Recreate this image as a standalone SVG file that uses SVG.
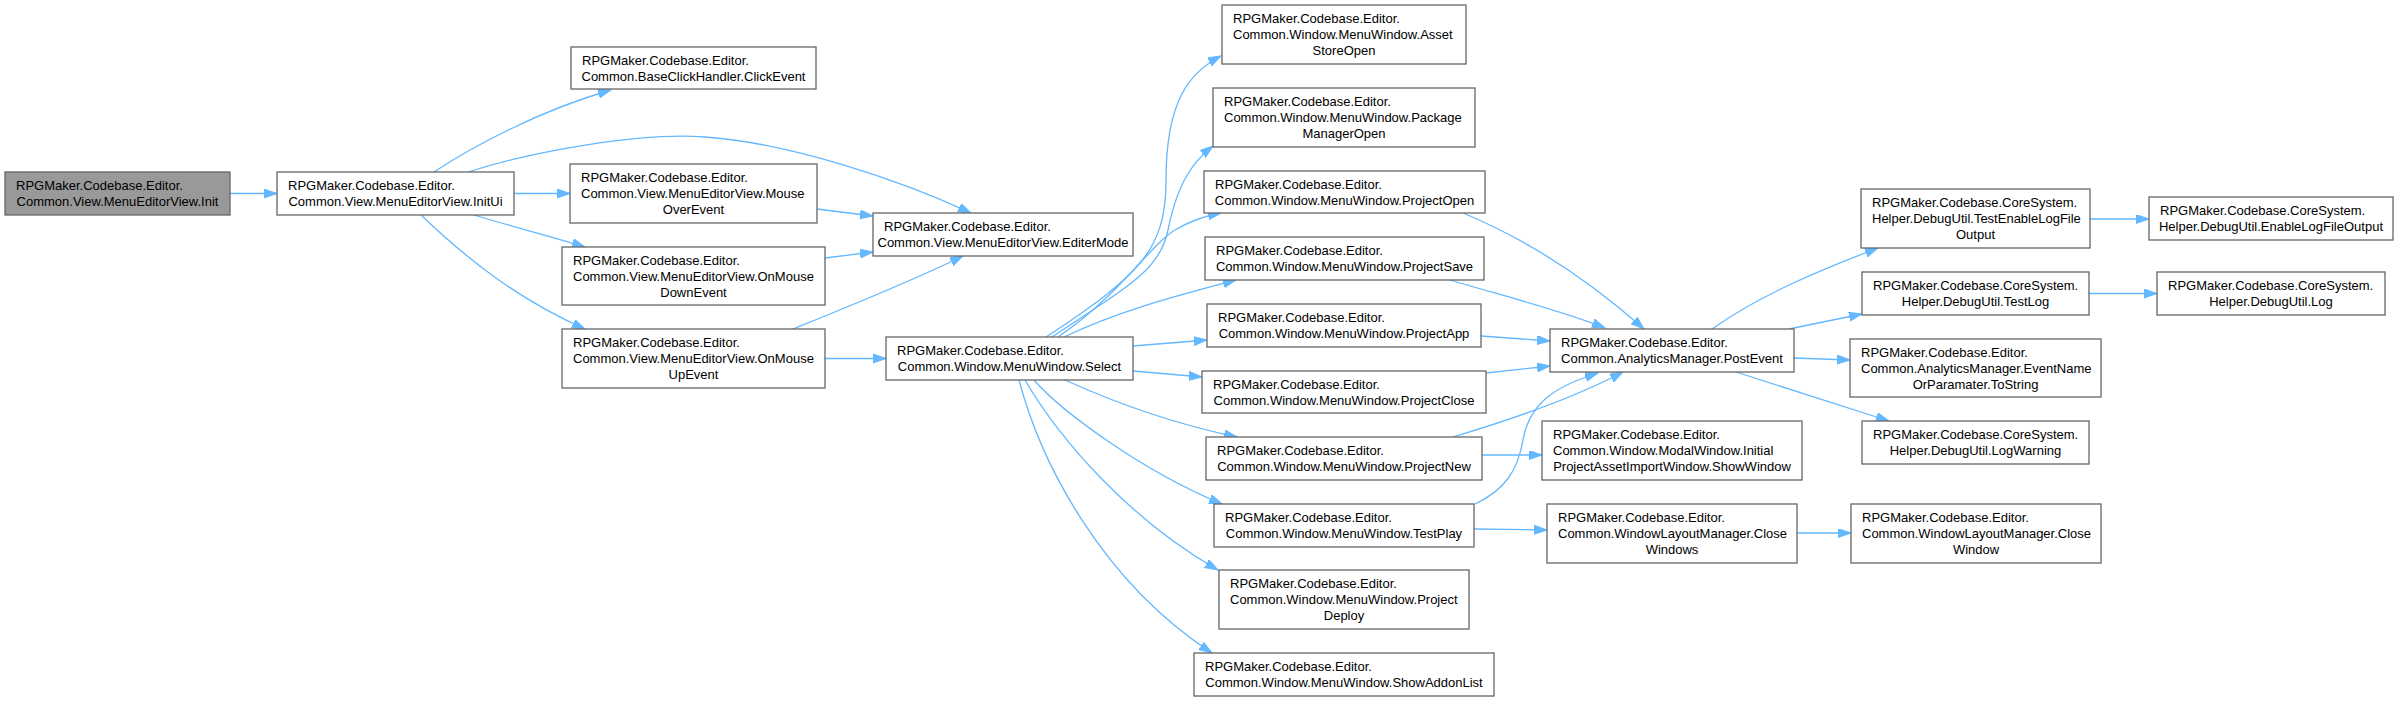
<svg xmlns="http://www.w3.org/2000/svg" width="2398" height="701" viewBox="0 0 2398 701">
<defs>
<style>
.n rect{fill:#ffffff;stroke:#666666;stroke-width:1.3}
.n.root rect{fill:#999999}
.n text{font-family:"Liberation Sans",Arial,sans-serif;font-size:13px;fill:#000000}
.n text.c{text-anchor:middle}
.e path{fill:none;stroke:#63b8ff;stroke-width:1.3;marker-end:url(#ah)}
</style>
<marker id="ah" markerUnits="userSpaceOnUse" markerWidth="14" markerHeight="10" refX="13" refY="4.5" orient="auto">
<path d="M0,0 L13,4.5 L0,9 z" fill="#63b8ff" stroke="#63b8ff" stroke-width="1"/>
</marker>
</defs>
<rect width="2398" height="701" fill="#ffffff"/>
<g id="connectors" class="e">
<path d="M230,193.5 L277,193.5"/>
<path d="M434,172 C470,148 540,110 611,90"/>
<path d="M468,172 C530,152 640,132 705,137 C790,143 900,180 971,213"/>
<path d="M514,193.5 L570,193.5"/>
<path d="M474,215 C510,226 550,236 585,247"/>
<path d="M421,215 C470,262 520,300 585,329"/>
<path d="M817,209 L873,216"/>
<path d="M825,258 L873,252"/>
<path d="M793,329 C840,310 910,282 963,256"/>
<path d="M825,358.5 L886,358.5"/>
<path d="M1046,337 C1140,275 1166,250 1166,180 C1166,100 1190,72 1221,56"/>
<path d="M1052,337 C1130,285 1160,270 1168,230 C1178,180 1195,160 1213,146"/>
<path d="M1058,337 C1120,295 1150,245 1175,230 C1190,221 1205,216 1221,213"/>
<path d="M1064,337 C1120,310 1180,295 1236,280"/>
<path d="M1133,346 L1207,340"/>
<path d="M1133,371 L1202,377"/>
<path d="M1065,380 C1120,405 1180,425 1237,437"/>
<path d="M1034,380 C1060,410 1140,470 1222,504"/>
<path d="M1025,380 C1060,440 1130,520 1218,570"/>
<path d="M1019,380 C1040,460 1100,580 1212,653"/>
<path d="M1463,213 C1540,245 1600,290 1644,329"/>
<path d="M1450,280 C1500,295 1560,310 1605,328"/>
<path d="M1481,336 L1550,341"/>
<path d="M1486,373 L1550,366"/>
<path d="M1453,437 C1510,420 1570,400 1623,372"/>
<path d="M1475,504 C1505,490 1518,470 1523,440 C1530,400 1560,385 1598,373"/>
<path d="M1482,455 L1542,455"/>
<path d="M1474,529 L1547,530"/>
<path d="M1797,533 L1851,533"/>
<path d="M1712,329 C1760,295 1820,270 1878,248"/>
<path d="M1789,329 L1862,314"/>
<path d="M1794,358 L1850,360"/>
<path d="M1736,372 L1889,421"/>
<path d="M2090,219 L2149,219"/>
<path d="M2089,293.5 L2157,293.5"/>
</g>
<g id="n1" class="n root"><rect x="5" y="172" width="225" height="43"/><text x="16" y="190">RPGMaker.Codebase.Editor.</text><text class="c" x="117.5" y="206">Common.View.MenuEditorView.Init</text></g>
<g id="n2" class="n"><rect x="277" y="172" width="237" height="43"/><text x="288" y="190">RPGMaker.Codebase.Editor.</text><text class="c" x="395.5" y="206">Common.View.MenuEditorView.InitUi</text></g>
<g id="n3" class="n"><rect x="571" y="47" width="245" height="42"/><text x="582" y="64.5">RPGMaker.Codebase.Editor.</text><text class="c" x="693.5" y="80.5">Common.BaseClickHandler.ClickEvent</text></g>
<g id="n4" class="n"><rect x="570" y="164" width="247" height="59"/><text x="581" y="182">RPGMaker.Codebase.Editor.</text><text x="581" y="198">Common.View.MenuEditorView.Mouse</text><text class="c" x="693.5" y="214">OverEvent</text></g>
<g id="n5" class="n"><rect x="562" y="247" width="263" height="58"/><text x="573" y="264.5">RPGMaker.Codebase.Editor.</text><text x="573" y="280.5">Common.View.MenuEditorView.OnMouse</text><text class="c" x="693.5" y="296.5">DownEvent</text></g>
<g id="n6" class="n"><rect x="562" y="329" width="263" height="59"/><text x="573" y="347">RPGMaker.Codebase.Editor.</text><text x="573" y="363">Common.View.MenuEditorView.OnMouse</text><text class="c" x="693.5" y="379">UpEvent</text></g>
<g id="n7" class="n"><rect x="873" y="213" width="260" height="43"/><text x="884" y="231">RPGMaker.Codebase.Editor.</text><text class="c" x="1003" y="247">Common.View.MenuEditorView.EditerMode</text></g>
<g id="n8" class="n"><rect x="886" y="337" width="247" height="43"/><text x="897" y="355">RPGMaker.Codebase.Editor.</text><text class="c" x="1009.5" y="371">Common.Window.MenuWindow.Select</text></g>
<g id="n9" class="n"><rect x="1222" y="5" width="244" height="59"/><text x="1233" y="23">RPGMaker.Codebase.Editor.</text><text x="1233" y="39">Common.Window.MenuWindow.Asset</text><text class="c" x="1344" y="55">StoreOpen</text></g>
<g id="n10" class="n"><rect x="1213" y="88" width="262" height="59"/><text x="1224" y="106">RPGMaker.Codebase.Editor.</text><text x="1224" y="122">Common.Window.MenuWindow.Package</text><text class="c" x="1344" y="138">ManagerOpen</text></g>
<g id="n11" class="n"><rect x="1204" y="171" width="281" height="42"/><text x="1215" y="188.5">RPGMaker.Codebase.Editor.</text><text class="c" x="1344.5" y="204.5">Common.Window.MenuWindow.ProjectOpen</text></g>
<g id="n12" class="n"><rect x="1205" y="237" width="279" height="43"/><text x="1216" y="255">RPGMaker.Codebase.Editor.</text><text class="c" x="1344.5" y="271">Common.Window.MenuWindow.ProjectSave</text></g>
<g id="n13" class="n"><rect x="1207" y="304" width="274" height="43"/><text x="1218" y="322">RPGMaker.Codebase.Editor.</text><text class="c" x="1344" y="338">Common.Window.MenuWindow.ProjectApp</text></g>
<g id="n14" class="n"><rect x="1202" y="371" width="284" height="42"/><text x="1213" y="388.5">RPGMaker.Codebase.Editor.</text><text class="c" x="1344" y="404.5">Common.Window.MenuWindow.ProjectClose</text></g>
<g id="n15" class="n"><rect x="1206" y="437" width="276" height="43"/><text x="1217" y="455">RPGMaker.Codebase.Editor.</text><text class="c" x="1344" y="471">Common.Window.MenuWindow.ProjectNew</text></g>
<g id="n16" class="n"><rect x="1214" y="504" width="260" height="43"/><text x="1225" y="522">RPGMaker.Codebase.Editor.</text><text class="c" x="1344" y="538">Common.Window.MenuWindow.TestPlay</text></g>
<g id="n17" class="n"><rect x="1219" y="570" width="250" height="59"/><text x="1230" y="588">RPGMaker.Codebase.Editor.</text><text x="1230" y="604">Common.Window.MenuWindow.Project</text><text class="c" x="1344" y="620">Deploy</text></g>
<g id="n18" class="n"><rect x="1194" y="653" width="300" height="43"/><text x="1205" y="671">RPGMaker.Codebase.Editor.</text><text class="c" x="1344" y="687">Common.Window.MenuWindow.ShowAddonList</text></g>
<g id="n19" class="n"><rect x="1550" y="329" width="244" height="43"/><text x="1561" y="347">RPGMaker.Codebase.Editor.</text><text class="c" x="1672" y="363">Common.AnalyticsManager.PostEvent</text></g>
<g id="n20" class="n"><rect x="1542" y="421" width="260" height="59"/><text x="1553" y="439">RPGMaker.Codebase.Editor.</text><text x="1553" y="455">Common.Window.ModalWindow.Initial</text><text class="c" x="1672" y="471">ProjectAssetImportWindow.ShowWindow</text></g>
<g id="n21" class="n"><rect x="1547" y="504" width="250" height="59"/><text x="1558" y="522">RPGMaker.Codebase.Editor.</text><text x="1558" y="538">Common.WindowLayoutManager.Close</text><text class="c" x="1672" y="554">Windows</text></g>
<g id="n22" class="n"><rect x="1861" y="189" width="229" height="59"/><text x="1872" y="207">RPGMaker.Codebase.CoreSystem.</text><text x="1872" y="223">Helper.DebugUtil.TestEnableLogFile</text><text class="c" x="1975.5" y="239">Output</text></g>
<g id="n23" class="n"><rect x="2149" y="197" width="244" height="43"/><text x="2160" y="215">RPGMaker.Codebase.CoreSystem.</text><text class="c" x="2271" y="231">Helper.DebugUtil.EnableLogFileOutput</text></g>
<g id="n24" class="n"><rect x="1862" y="272" width="227" height="43"/><text x="1873" y="290">RPGMaker.Codebase.CoreSystem.</text><text class="c" x="1975.5" y="306">Helper.DebugUtil.TestLog</text></g>
<g id="n25" class="n"><rect x="2157" y="272" width="228" height="43"/><text x="2168" y="290">RPGMaker.Codebase.CoreSystem.</text><text class="c" x="2271" y="306">Helper.DebugUtil.Log</text></g>
<g id="n26" class="n"><rect x="1850" y="339" width="251" height="58"/><text x="1861" y="356.5">RPGMaker.Codebase.Editor.</text><text x="1861" y="372.5">Common.AnalyticsManager.EventName</text><text class="c" x="1975.5" y="388.5">OrParamater.ToString</text></g>
<g id="n27" class="n"><rect x="1862" y="421" width="227" height="43"/><text x="1873" y="439">RPGMaker.Codebase.CoreSystem.</text><text class="c" x="1975.5" y="455">Helper.DebugUtil.LogWarning</text></g>
<g id="n28" class="n"><rect x="1851" y="504" width="250" height="59"/><text x="1862" y="522">RPGMaker.Codebase.Editor.</text><text x="1862" y="538">Common.WindowLayoutManager.Close</text><text class="c" x="1976" y="554">Window</text></g>
</svg>
